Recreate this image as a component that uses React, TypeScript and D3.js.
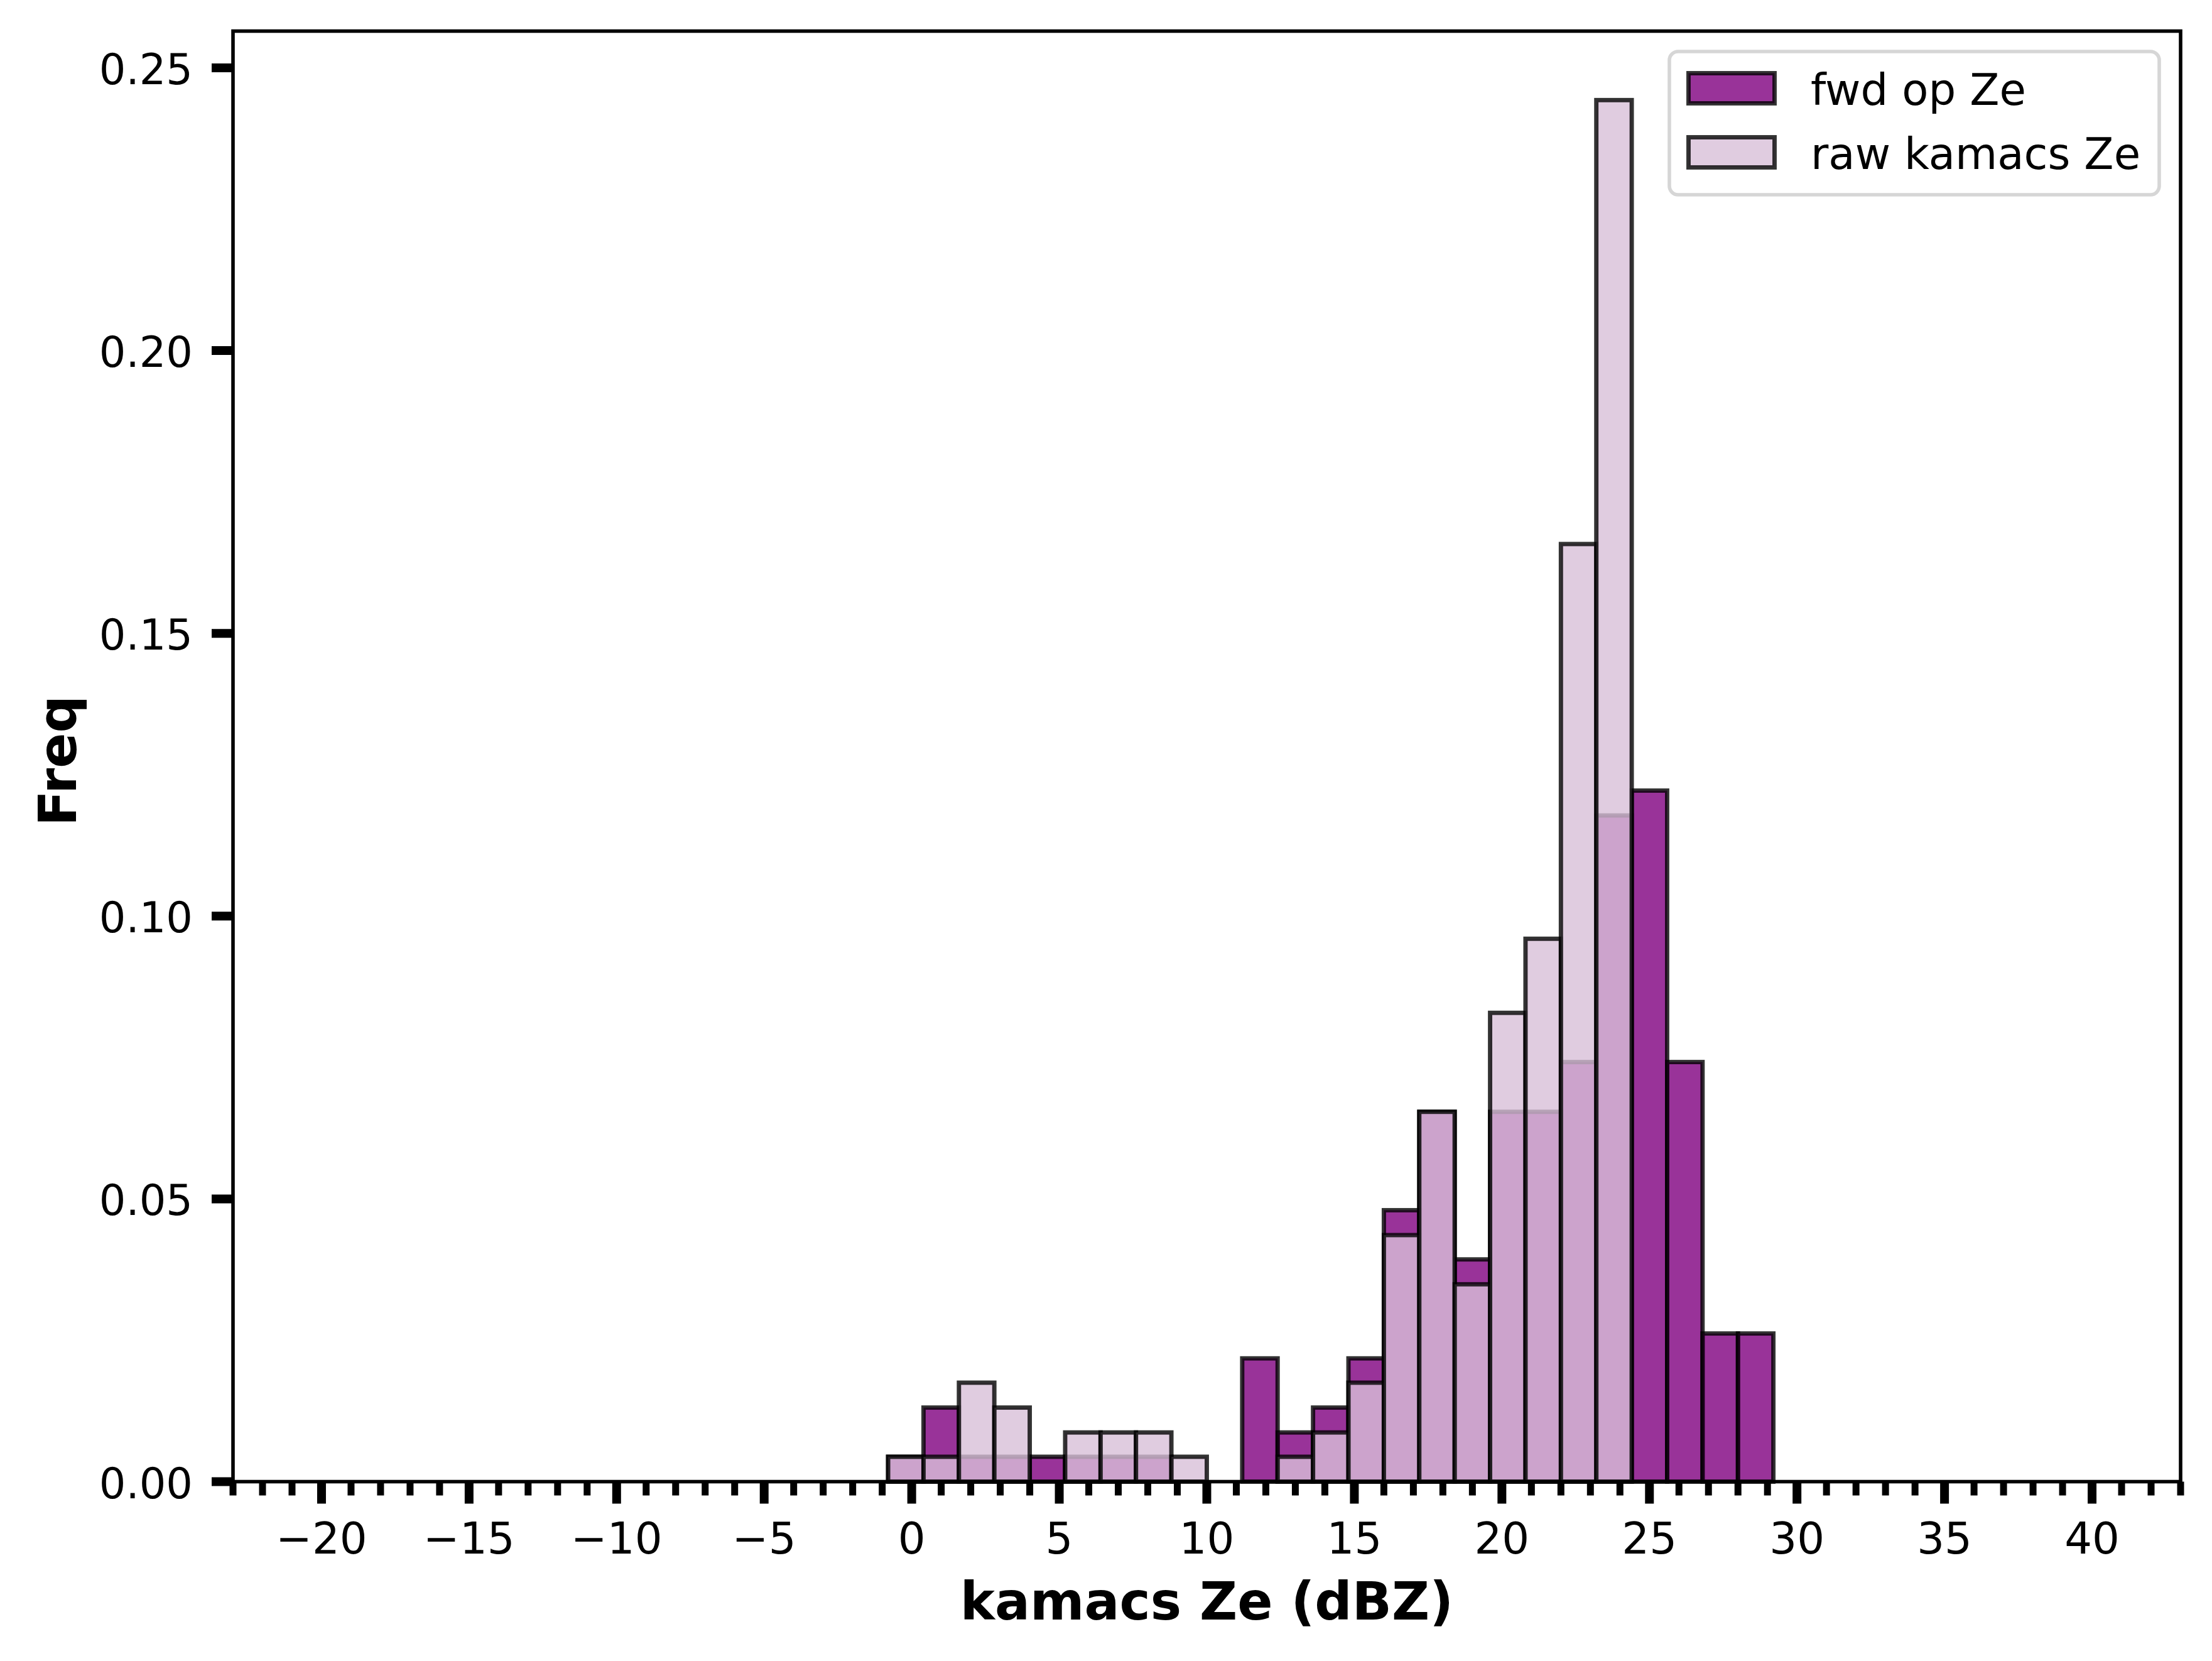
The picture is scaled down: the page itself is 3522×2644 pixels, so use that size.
import * as d3 from 'd3';

// histogram bin edges (dBZ), bin width 1.2
const binEdges = [
  -0.8, 0.4, 1.6, 2.8, 4.0, 5.2, 6.4, 7.6, 8.8, 10.0, 11.2, 12.4, 13.6,
  14.8, 16.0, 17.2, 18.4, 19.6, 20.8, 22.0, 23.2, 24.4, 25.6, 26.8, 28.0, 29.2,
];

// density per bin
const fwdOpZe = [
  0.0044, 0.0131, 0.0044, 0.0044, 0.0044, 0.0044, 0.0044, 0.0044, 0, 0,
  0.0218, 0.0087, 0.0131, 0.0218, 0.048, 0.0654, 0.0393, 0.0654, 0.0654,
  0.0742, 0.1178, 0.1222, 0.0742, 0.0262, 0.0262,
];
const rawKamacsZe = [
  0.0044, 0.0044, 0.0175, 0.0131, 0, 0.0087, 0.0087, 0.0087, 0.0044, 0,
  0, 0.0044, 0.0087, 0.0175, 0.0436, 0.0654, 0.0349, 0.0829, 0.096,
  0.1658, 0.2443, 0, 0, 0, 0,
];

const xMajorTicks = [-20, -15, -10, -5, 0, 5, 10, 15, 20, 25, 30, 35, 40];
const yTicks = [0, 0.05, 0.1, 0.15, 0.2, 0.25];

const seriesNames = ['fwd op Ze', 'raw kamacs Ze'];
const seriesColors = ['#800080', '#d8bfd8'];

const W = 3522;
const H = 2644;
const left = 371;
const right = 3472;
const top = 49.5;
const bottom = 2358.5;
const font = 'DejaVu Sans, sans-serif';
const fmtY = d3.format('.2f');
const fmtX = (v: number) => (v < 0 ? '\u2212' + Math.abs(v) : String(v));

const App = () => {
  const x = d3.scaleLinear().domain([-23, 43]).range([left, right]);
  const y = d3.scaleLinear().domain([0, 0.2565]).range([bottom, top]);

  const xMinorTicks = d3.range(-23, 44, 1).filter((v) => v % 5 !== 0);

  const bars = (vals: number[], color: string, key: string) =>
    vals.map((v, i) =>
      v > 0 ? (
        <rect
          key={key + i}
          x={x(binEdges[i])}
          y={y(v)}
          width={x(binEdges[i + 1]) - x(binEdges[i])}
          height={y(0) - y(v)}
          fill={color}
          fillOpacity={0.8}
          stroke="#000"
          strokeOpacity={0.8}
          strokeWidth={6.9}
        />
      ) : null
    );

  return (
    <div style={{ position: 'absolute', left: 0, top: 0 }}>
      <svg width={W} height={H} style={{ display: 'block', background: '#fff' }}>
        {/* bars */}
        {bars(fwdOpZe, seriesColors[0], 'f')}
        {bars(rawKamacsZe, seriesColors[1], 'r')}

        {/* spines */}
        <rect x={left} y={top} width={right - left} height={bottom - top}
          fill="none" stroke="#000" strokeWidth={5.6} />

        {/* x minor ticks */}
        {xMinorTicks.map((v) => (
          <line key={'xm' + v} x1={x(v)} x2={x(v)} y1={bottom} y2={bottom + 22}
            stroke="#000" strokeWidth={11} />
        ))}
        {/* x major ticks */}
        {xMajorTicks.map((v) => (
          <g key={'xt' + v} transform={`translate(${x(v)},${bottom})`}>
            <line y2={35} stroke="#000" strokeWidth={14} />
            <text y={114} textAnchor="middle" fontFamily={font} fontSize={69}>
              {fmtX(v)}
            </text>
          </g>
        ))}

        {/* y ticks */}
        {yTicks.map((v) => (
          <g key={'yt' + v} transform={`translate(${left},${y(v)})`}>
            <line x2={-34} stroke="#000" strokeWidth={14} />
            <text x={-64} dy={26} textAnchor="end" fontFamily={font} fontSize={67}>
              {fmtY(v)}
            </text>
          </g>
        ))}

        {/* axis labels */}
        <text x={(left + right) / 2} y={2578} textAnchor="middle" fontFamily={font}
          fontSize={83} fontWeight="bold">
          kamacs Ze (dBZ)
        </text>
        <text transform={`translate(121,1211) rotate(-90)`} textAnchor="middle"
          fontFamily={font} fontSize={83} fontWeight="bold">
          Freq
        </text>

        {/* legend */}
        <rect x={2658} y={82} width={780} height={228} rx={14} fill="#fff"
          fillOpacity={0.8} stroke="#d6d6d6" strokeWidth={5.6} />
        {seriesNames.map((name, i) => (
          <g key={name} transform={`translate(0,${i * 102})`}>
            <rect x={2688.5} y={116.5} width={137} height={48}
              fill={seriesColors[i]} fillOpacity={0.8}
              stroke="#000" strokeOpacity={0.8} strokeWidth={6.9} />
            <text x={2883} y={167} fontFamily={font} fontSize={69}>{name}</text>
          </g>
        ))}
      </svg>
    </div>
  );
};

export default App;
